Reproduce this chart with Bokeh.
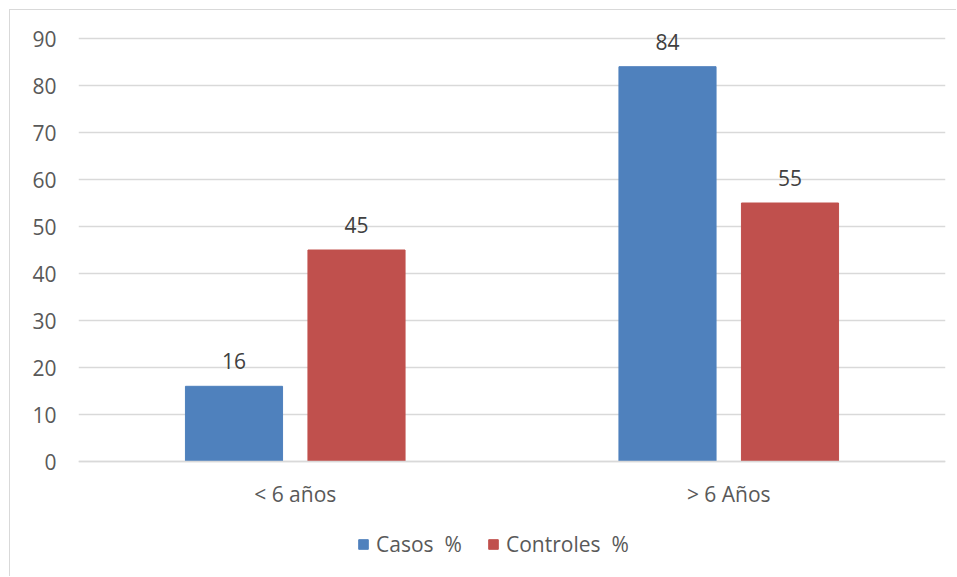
from bokeh.plotting import figure
from bokeh.models import (ColumnDataSource, FactorRange, Range1d, FixedTicker,
                          LabelSet, Legend, LegendItem, Span)
from bokeh.core.properties import value
from bokeh.transform import dodge
from bokeh.embed import file_html
from bokeh.resources import INLINE

# Age groups and the share (%) of cases and controls in each
categories = ["< 6 años", "> 6 Años"]
casos = [16, 84]
controles = [45, 55]
series_names = ["Casos  %", "Controles  %"]
y_ticks = [0, 10, 20, 30, 40, 50, 60, 70, 80, 90]

FONT = "Open Sans"
SIZE = "21px"
TEXT = "#595959"
BLUE = "#4F81BD"
RED = "#C0504D"
GRID = "#D9D9D9"

# the value axis spans 0-90 over 423 px; the frame runs a bit above and
# well below that so labels and legend sit inside it
PX_PER_UNIT = 423 / 90
y_end = 90 + 28 / PX_PER_UNIT
y_start = -116 / PX_PER_UNIT

src = ColumnDataSource(dict(cat=categories, casos=casos, controles=controles,
                            casos_txt=[str(v) for v in casos],
                            controles_txt=[str(v) for v in controles]))

p = figure(x_range=FactorRange(factors=categories),
           y_range=Range1d(y_start, y_end),
           width=947, height=567, output_backend="svg", toolbar_location=None,
           min_border_left=68, min_border_right=12, min_border_top=0,
           min_border_bottom=0)
p.styles = {"margin-left": "9px", "margin-top": "9px",
            "border-left": f"1px solid {GRID}", "border-top": f"1px solid {GRID}"}
p.outline_line_color = None
p.background_fill_color = "white"
p.border_fill_color = "white"

off = 0.1413
w = 0.224
r1 = p.vbar(x=dodge("cat", -off, range=p.x_range), top="casos", width=w,
            source=src, fill_color=BLUE, line_color=BLUE)
r2 = p.vbar(x=dodge("cat", off, range=p.x_range), top="controles", width=w,
            source=src, fill_color=RED, line_color=RED)

# value labels above the bars
for col, dx in (("casos", -off), ("controles", off)):
    p.add_layout(LabelSet(x=dodge("cat", dx, range=p.x_range), y=col,
                          text=col + "_txt", source=src, y_offset=25,
                          text_align="center", text_baseline="middle",
                          text_font=value(FONT), text_font_size=SIZE,
                          text_color="#404040"))

# category labels under the baseline
p.text(x=categories, y=[0] * len(categories), text=categories, y_offset=32,
       text_align="center", text_baseline="middle", text_font=value(FONT),
       text_font_size=SIZE, text_color=TEXT)

p.xaxis.visible = False
p.yaxis.ticker = FixedTicker(ticks=y_ticks)
p.yaxis.axis_line_color = None
p.yaxis.major_tick_line_color = None
p.yaxis.minor_tick_line_color = None
p.yaxis.major_tick_out = 0
p.yaxis.major_tick_in = 0
p.yaxis.major_label_text_font = FONT
p.yaxis.major_label_text_font_size = SIZE
p.yaxis.major_label_text_color = TEXT
p.yaxis.major_label_standoff = 22

p.xgrid.grid_line_color = None
p.ygrid.ticker = FixedTicker(ticks=y_ticks)
p.ygrid.grid_line_color = GRID
p.ygrid.grid_line_width = 1.5
p.add_layout(Span(location=0, dimension="width", line_color=GRID, line_width=1.5))

# legend entries placed under the category labels
for r, name, vx in ((r1, series_names[0], 279), (r2, series_names[1], 409)):
    lg = Legend(items=[LegendItem(label=name, renderers=[r])],
                location=(vx, 19), orientation="horizontal",
                glyph_width=12, glyph_height=12, label_standoff=7,
                padding=0, margin=0, border_line_color=None,
                background_fill_alpha=0, label_text_font=FONT,
                label_text_font_size=SIZE, label_text_color=TEXT)
    p.add_layout(lg, "center")

open("out.html", "w").write(file_html(p, INLINE))
